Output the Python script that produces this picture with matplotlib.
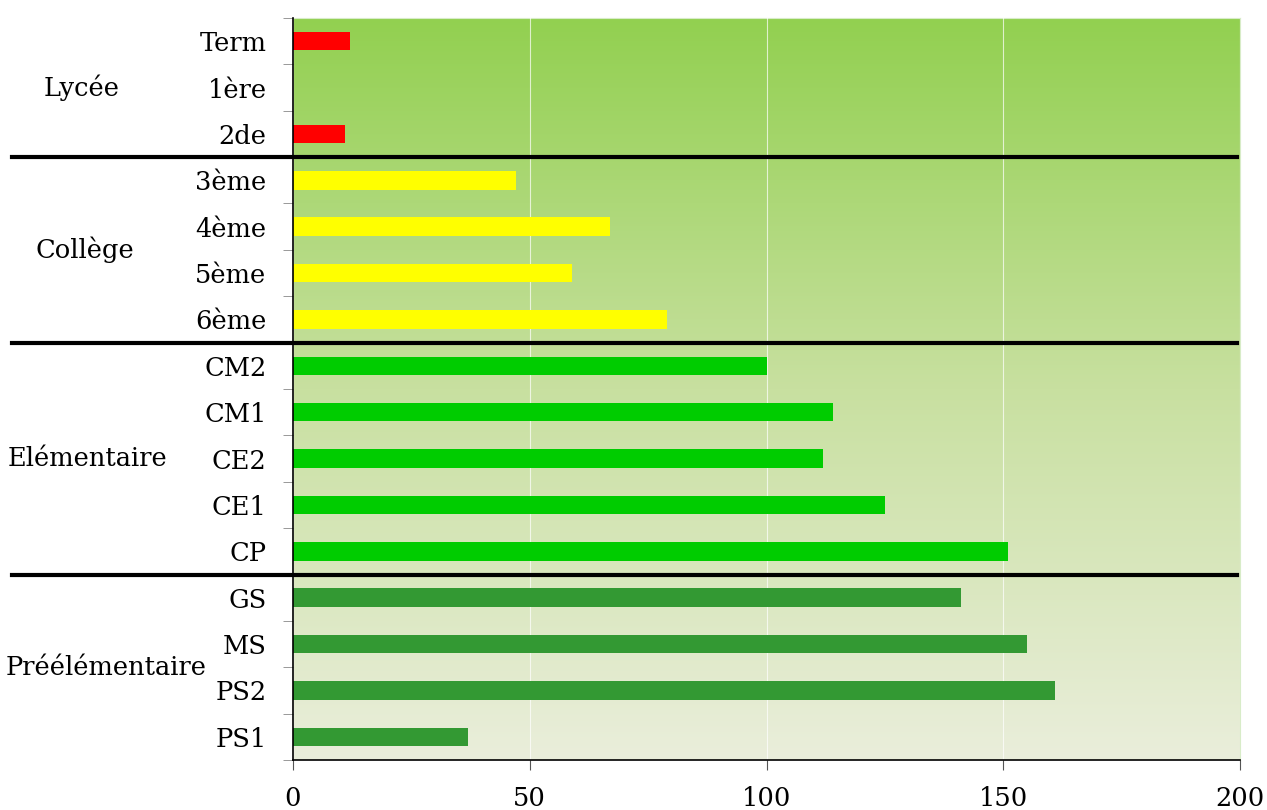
import numpy as np
import matplotlib
matplotlib.use("Agg")
from matplotlib import pyplot as plt
from matplotlib import transforms
from matplotlib.colors import LinearSegmentedColormap

# Données
niveaux = ["Term", "1ère", "2de", "3ème", "4ème", "5ème", "6ème",
           "CM2", "CM1", "CE2", "CE1", "CP", "GS", "MS", "PS2", "PS1"]
effectifs = [12, 0, 11, 47, 67, 59, 79, 100, 114, 112, 125, 151, 141, 155, 161, 37]
cycles = ["Lycée", "Collège", "Elémentaire", "Préélémentaire"]
nb_par_cycle = [3, 4, 5, 4]
couleurs_cycle = ["#ff0000", "#ffff00", "#00cc00", "#339933"]
graduations = [0, 50, 100, 150, 200]

# position horizontale (pixels) du centre de chaque nom de cycle
x_cycles = [82, 85, 88, 106]

plt.rcParams['font.family'] = ['DejaVu Serif']

fig = plt.figure(figsize=(12.67, 8.10), dpi=100)
ax = fig.add_axes([293 / 1267, 50 / 810, 947 / 1267, 742 / 810])

# fond en dégradé
fond = LinearSegmentedColormap.from_list("fond", ["#eaeedb", "#c8e0a0", "#92d050"])
ax.imshow(np.linspace(0, 1, 256).reshape(-1, 1)[::-1], cmap=fond, aspect='auto',
          extent=[0, 1, 0, 1], transform=ax.transAxes, zorder=0)

couleurs = []
for c, n in zip(couleurs_cycle, nb_par_cycle):
    couleurs += [c] * n

y = np.arange(len(niveaux))
ax.barh(y, effectifs, height=0.4, color=couleurs, zorder=3)

ax.set_xlim(0, 200)
ax.set_ylim(len(niveaux) - 0.5, -0.5)
ax.set_xticks(graduations)
ax.set_yticks(y)
ax.set_yticklabels(niveaux)
ax.set_yticks(np.arange(len(niveaux) + 1) - 0.5, minor=True)
ax.tick_params(axis='y', which='major', length=0, pad=19, labelsize=18.5)
ax.tick_params(axis='y', which='minor', length=7, color='#888888', direction='out')
ax.tick_params(axis='x', length=7, color='#555555', pad=12, labelsize=18.5)

ax.grid(axis='x', color='white', linewidth=0.8, alpha=0.7, zorder=1)
ax.set_axisbelow(False)
for s in ['top', 'right']:
    ax.spines[s].set_color('#d8ecc8')
for s in ['left', 'bottom']:
    ax.spines[s].set_color('black')
    ax.spines[s].set_linewidth(1.2)
    ax.spines[s].set_zorder(4)

# séparateurs et noms des cycles
trans = transforms.blended_transform_factory(fig.transFigure, ax.transData)
debut = 0
for nom, n, xc in zip(cycles, nb_par_cycle, x_cycles):
    centre = debut + (n - 1) / 2
    ax.text(xc / 1267, centre, nom, transform=trans, ha='center', va='center', fontsize=18.5)
    if debut + n < len(niveaux):
        ax.plot([12 / 1267, 1237 / 1267], [debut + n - 0.5] * 2, transform=trans,
                color='black', linewidth=3, clip_on=False, zorder=5)
    debut += n

fig.savefig("out.png", dpi=100)
